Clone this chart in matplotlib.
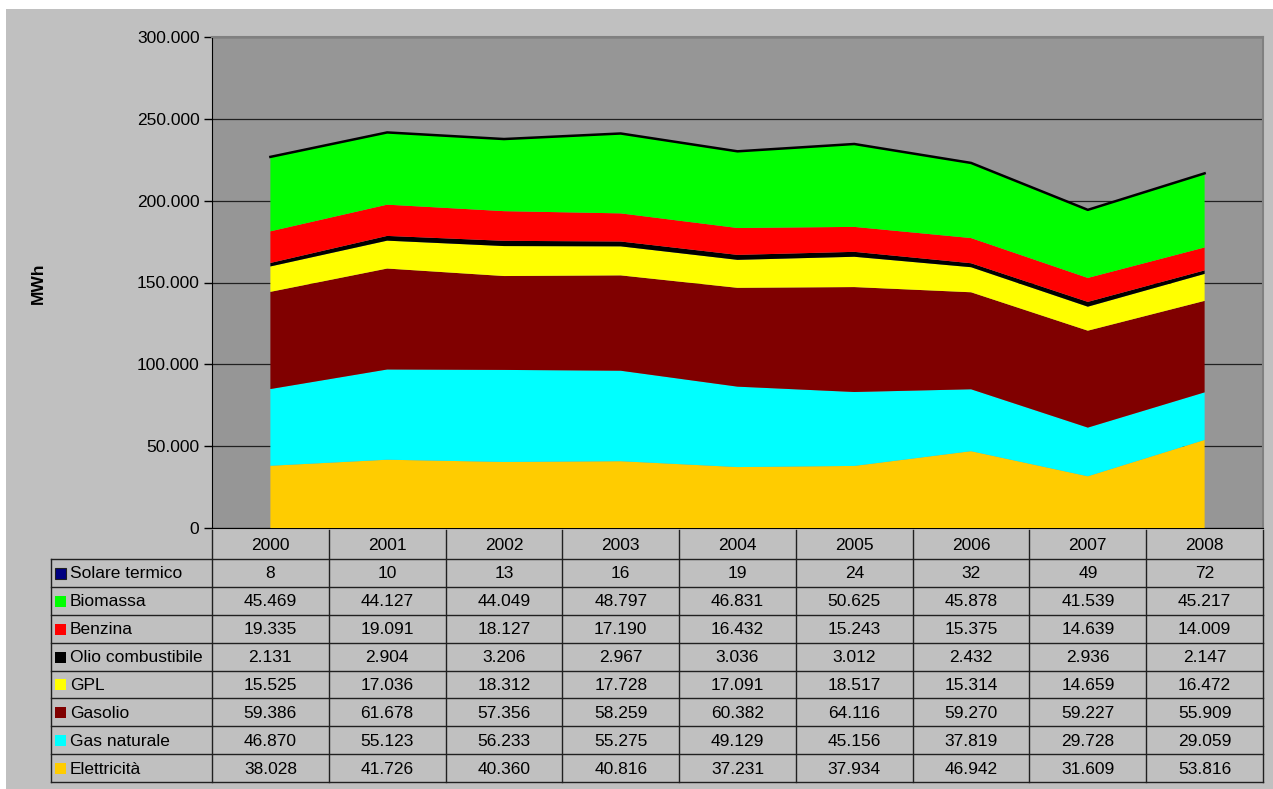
import matplotlib
matplotlib.use("Agg")
import matplotlib.pyplot as plt
from matplotlib.patches import Rectangle
import numpy as np

plt.rcParams["font.family"] = ["Liberation Sans", "DejaVu Sans"]

# ── Dati ──────────────────────────────────────────────────────────────────────
anni = ["2000", "2001", "2002", "2003", "2004", "2005", "2006", "2007", "2008"]

elettricita = [38028, 41726, 40360, 40816, 37231, 37934, 46942, 31609, 53816]
gas_naturale = [46870, 55123, 56233, 55275, 49129, 45156, 37819, 29728, 29059]
gasolio = [59386, 61678, 57356, 58259, 60382, 64116, 59270, 59227, 55909]
gpl = [15525, 17036, 18312, 17728, 17091, 18517, 15314, 14659, 16472]
olio = [2131, 2904, 3206, 2967, 3036, 3012, 2432, 2936, 2147]
benzina = [19335, 19091, 18127, 17190, 16432, 15243, 15375, 14639, 14009]
biomassa = [45469, 44127, 44049, 48797, 46831, 50625, 45878, 41539, 45217]
solare = [8, 10, 13, 16, 19, 24, 32, 49, 72]

# ordine di impilamento (dal basso)
serie = [
    ("Elettricità", elettricita, "#FFCC00"),
    ("Gas naturale", gas_naturale, "#00FFFF"),
    ("Gasolio", gasolio, "#800000"),
    ("GPL", gpl, "#FFFF00"),
    ("Olio combustibile", olio, "#000000"),
    ("Benzina", benzina, "#FF0000"),
    ("Biomassa", biomassa, "#00FF00"),
    ("Solare termico", solare, "#000080"),
]

FS = 12.5
W, H = 1273, 789
fig = plt.figure(figsize=(W / 100, H / 100), dpi=100, facecolor="white")

# sfondo grigio del grafico (dietro agli assi)
fig.patches.append(Rectangle((6 / W, 0), 1 - 6 / W, 1 - 9 / H,
                             transform=fig.transFigure, facecolor="#C0C0C0",
                             edgecolor="none", zorder=-10))


def px(x0, y0, x1, y1):
    return [x0 / W, 1 - y1 / H, (x1 - x0) / W, (y1 - y0) / H]


# ── Area plot ────────────────────────────────────────────────────────────────
ax = fig.add_axes(px(212, 37, 1263, 528))
ax.set_facecolor("#969696")
x = np.arange(len(anni))
ax.stackplot(x, *[s[1] for s in serie], colors=[s[2] for s in serie],
             linewidth=0, zorder=3)
totale = np.sum([s[1] for s in serie], axis=0)
ax.plot(x, totale, color="black", lw=1.8, zorder=4)

ax.set_xlim(-0.5, len(anni) - 0.5)
ax.set_ylim(0, 300000)
ax.set_yticks(range(0, 300001, 50000))
ax.set_yticklabels(["0"] + [f"{v:,}".replace(",", ".") for v in range(50000, 300001, 50000)],
                   fontsize=FS)
ax.set_xticks([])
ax.grid(axis="y", color="#202020", lw=0.9, zorder=1)
ax.set_axisbelow(True)
ax.tick_params(axis="y", length=6, width=1, direction="out", pad=3)
for side in ["top", "right"]:
    ax.spines[side].set_color("#808080")
    ax.spines[side].set_linewidth(1.5)
ax.spines["left"].set_color("black")
ax.spines["bottom"].set_color("black")

fig.text(38 / W, 1 - 283 / H, "MWh", rotation=90, ha="center", va="center",
         fontsize=FS, fontweight="bold")

# ── Tabella dati ──────────────────────────────────────────────────────────────
tab_top, head_bot, tab_bot = 530, 559, 782
leg_left, col_left, col_right = 51, 212, 1263
cw = (col_right - col_left) / len(anni)
rh = (tab_bot - head_bot) / len(serie)
lc = "#202020"


def fy(y):
    return 1 - y / H


def fx(xp):
    return xp / W


def hline(y, x0, x1):
    fig.add_artist(plt.Line2D([fx(x0), fx(x1)], [fy(y), fy(y)], color=lc, lw=1))


def vline(xp, y0, y1):
    fig.add_artist(plt.Line2D([fx(xp), fx(xp)], [fy(y0), fy(y1)], color=lc, lw=1))


# righe orizzontali
hline(head_bot, leg_left, col_right)
for i in range(1, len(serie) + 1):
    hline(head_bot + i * rh, leg_left, col_right)
# linee verticali
vline(leg_left, head_bot, tab_bot)
for j in range(len(anni) + 1):
    vline(col_left + j * cw, tab_top, tab_bot)

# intestazione anni
for j, a in enumerate(anni):
    fig.text(fx(col_left + (j + 0.5) * cw), fy((tab_top + head_bot) / 2 + 1), a,
             ha="center", va="center", fontsize=FS)

# righe: dall'alto Solare termico ... Elettricità
for i, (nome, vals, col) in enumerate(reversed(serie)):
    yc = head_bot + (i + 0.5) * rh + 1
    fig.patches.append(Rectangle((fx(55), fy(yc + 5)), 11 / W, 11 / H,
                                 transform=fig.transFigure, facecolor=col,
                                 edgecolor="#202020" if nome == "Solare termico" else "none",
                                 lw=0.8))
    fig.text(fx(70), fy(yc), nome, ha="left", va="center", fontsize=FS)
    for j, v in enumerate(vals):
        fig.text(fx(col_left + (j + 0.5) * cw), fy(yc), f"{v:,}".replace(",", "."),
                 ha="center", va="center", fontsize=FS)

fig.savefig("out.png", dpi=100, facecolor=fig.get_facecolor())
